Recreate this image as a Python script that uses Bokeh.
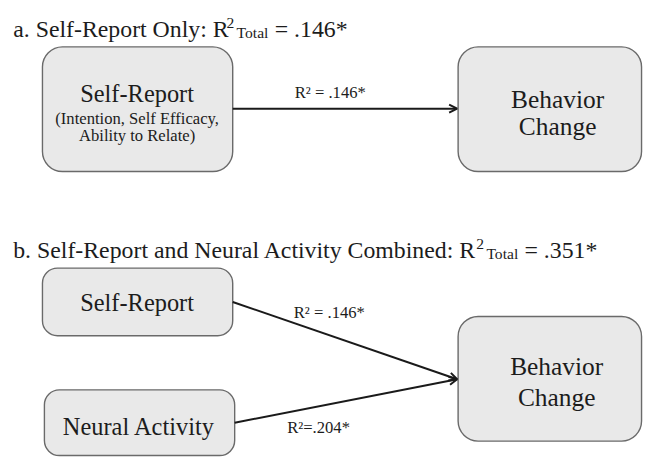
from bokeh.plotting import figure
from bokeh.models import BoxAnnotation, Arrow, OpenHead, Range1d, ColumnDataSource
from bokeh.core.properties import value
from bokeh.embed import file_html
from bokeh.resources import INLINE

# ---------------- data ----------------
panel_titles = ["a. Self-Report Only: R", "b. Self-Report and Neural Activity Combined: R"]
r2_total = ["= .146*", "= .351*"]
node_labels = [
    ["Self-Report", "(Intention, Self Efficacy,", "Ability to Relate)"],
    ["Behavior", "Change"],
    ["Self-Report"],
    ["Neural Activity"],
    ["Behavior", "Change"],
]
path_labels = ["R\u00b2 = .146*", "R\u00b2 = .146*", "R\u00b2=.204*"]

# ---------------- layout (reference pixel space 659 x 473) ----------------
W, H = 659, 473
PW, PH = 643, 457
sx = PW / W
FONT = "Liberation Serif"
TXT = "#1c1c1c"

def fs(px):
    return f"{px * sx:.1f}px"

boxes = [  # left, right, top, bottom, radius
    (43, 238, 48, 177, 20),
    (469, 657, 48, 177, 20),
    (43, 238, 277, 347, 15),
    (45, 240, 403, 471, 15),
    (469, 657, 327, 456, 20),
]
node_text_pos = [
    [(140, 96, 25), (140, 122, 17), (140, 140, 17)],
    [(571, 102, 26), (571, 130, 26)],
    [(140, 313, 25)],
    [(142, 441, 25)],
    [(570, 378, 26), (570, 410, 26)],
]
edges = [  # x0, y0, x1, y1
    (238, 112, 468, 112),
    (238, 312, 468, 392),
    (240, 437, 468, 392),
]
edge_label_pos = [(338, 95), (337, 323), (326, 442)]

p = figure(width=PW, height=PH, output_backend="svg", toolbar_location=None,
           x_range=Range1d(0, W), y_range=Range1d(H, 0), min_border=0)
p.axis.visible = False
p.grid.visible = False
p.outline_line_color = None
p.background_fill_color = "white"
p.border_fill_color = "white"

for (l, r, t, b, rad) in boxes:
    p.add_layout(BoxAnnotation(left=l, right=r, top=t, bottom=b, border_radius=rad,
                               fill_color="#e9e9e9", fill_alpha=1.0,
                               line_color="#6a6a6a", line_alpha=1.0, line_width=1.4,
                               level="underlay"))

for (x0, y0, x1, y1) in edges:
    p.add_layout(Arrow(x_start=x0, y_start=y0, x_end=x1, y_end=y1,
                       line_color="#1a1a1a", line_width=2,
                       end=OpenHead(size=8, line_color="#1a1a1a", line_width=2)))

# node texts
xs, ys, ts, sz = [], [], [], []
for labels, poss in zip(node_labels, node_text_pos):
    for lab, (x, y, s) in zip(labels, poss):
        xs.append(x); ys.append(y); ts.append(lab); sz.append(fs(s))
p.text(x="x", y="y", text="t", text_font_size="s",
       source=ColumnDataSource(dict(x=xs, y=ys, t=ts, s=sz)),
       text_font=value(FONT), text_align="center", text_baseline="middle",
       text_color=TXT)

# edge labels
p.text(x=[q[0] for q in edge_label_pos], y=[q[1] for q in edge_label_pos], text=path_labels,
       text_font=value(FONT), text_font_size=fs(17), text_align="center",
       text_baseline="middle", text_color=TXT)

# titles with superscript 2 and subscript Total
title_x = [13, 13]
title_y = [29, 258]
r_end = [230, 486]
p.text(x=title_x, y=title_y, text=panel_titles, text_font=value(FONT),
       text_font_size=fs(24.4), text_align="left", text_baseline="alphabetic", text_color=TXT)
p.text(x=[r + 1.5 for r in r_end], y=[y - 6 for y in title_y], text=["2", "2"],
       text_font=value(FONT), text_font_size=fs(16), text_align="left",
       text_baseline="alphabetic", text_color=TXT)
p.text(x=[r + 12 for r in r_end], y=[y + 4 for y in title_y], text=["Total", "Total"],
       text_font=value(FONT), text_font_size=fs(16), text_align="left",
       text_baseline="alphabetic", text_color=TXT)
p.text(x=[r + 51 for r in r_end], y=title_y, text=r2_total,
       text_font=value(FONT), text_font_size=fs(24.4), text_align="left",
       text_baseline="alphabetic", text_color=TXT)

open("out.html", "w").write(file_html(p, INLINE))
